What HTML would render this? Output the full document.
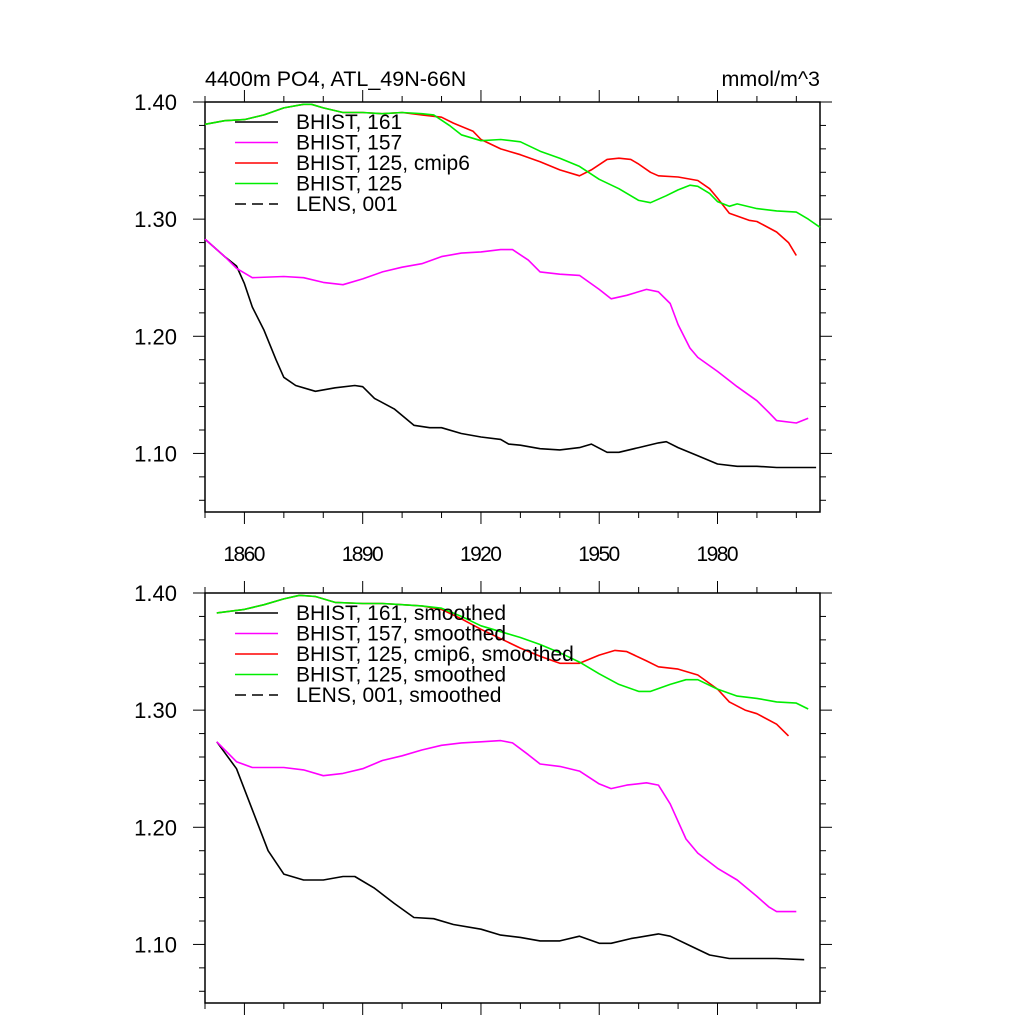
<!DOCTYPE html>
<html><head><meta charset="utf-8"><style>
body{margin:0;background:#fff}
svg{display:block;font-family:"Liberation Sans",sans-serif}
</style></head><body>
<svg id="chart" width="1024" height="1024" viewBox="0 0 1024 1024">
<text x="205" y="86" font-size="21.5">4400m PO4, ATL_49N-66N</text>
<text x="820" y="86" font-size="21.5" text-anchor="end">mmol/m^3</text>
</svg>
<script>
const xTicks=[1860,1890,1920,1950,1980];
const yTicks=[1.40,1.30,1.20,1.10];
const yTickLabels=["1.40","1.30","1.20","1.10"];
// top panel (raw)
const blkYears=[1850,1855,1858,1860,1862,1865,1868,1870,1873,1878,1883,1888,1890,1893,1898,1903,1907,1910,1915,1920,1925,1927,1930,1935,1940,1945,1948,1952,1955,1960,1965,1967,1970,1975,1980,1985,1990,1995,2000,2005];
const blkVals=[1.283,1.268,1.26,1.245,1.225,1.205,1.18,1.165,1.158,1.153,1.156,1.158,1.157,1.147,1.138,1.124,1.122,1.122,1.117,1.114,1.112,1.108,1.107,1.104,1.103,1.105,1.108,1.101,1.101,1.105,1.109,1.110,1.105,1.098,1.091,1.089,1.089,1.088,1.088,1.088];
const magYears=[1850,1855,1858,1862,1870,1875,1880,1885,1890,1895,1900,1905,1910,1915,1920,1925,1928,1932,1935,1940,1945,1950,1953,1957,1962,1965,1968,1970,1973,1975,1980,1985,1990,1993,1995,2000,2003];
const magVals=[1.283,1.268,1.258,1.25,1.251,1.25,1.246,1.244,1.249,1.255,1.259,1.262,1.268,1.271,1.272,1.274,1.274,1.265,1.255,1.253,1.252,1.24,1.232,1.235,1.240,1.238,1.228,1.21,1.19,1.182,1.17,1.157,1.145,1.135,1.128,1.126,1.13];
const redYears=[1850,1855,1860,1865,1870,1875,1877,1880,1885,1890,1895,1900,1905,1910,1913,1918,1920,1925,1930,1935,1940,1945,1948,1952,1955,1958,1960,1963,1965,1970,1975,1978,1980,1983,1988,1990,1995,1998,2000];
const redVals=[1.381,1.384,1.385,1.389,1.395,1.398,1.398,1.395,1.391,1.391,1.390,1.391,1.389,1.387,1.382,1.375,1.368,1.36,1.355,1.349,1.342,1.337,1.342,1.351,1.352,1.351,1.347,1.340,1.337,1.336,1.333,1.326,1.318,1.305,1.299,1.298,1.289,1.280,1.269];
const grnYears=[1850,1855,1860,1865,1870,1875,1877,1880,1885,1890,1895,1900,1905,1908,1912,1915,1920,1925,1930,1935,1940,1945,1950,1955,1960,1963,1967,1970,1973,1975,1978,1980,1983,1985,1990,1995,2000,2003,2006];
const grnVals=[1.381,1.384,1.385,1.389,1.395,1.398,1.398,1.395,1.391,1.391,1.390,1.391,1.390,1.389,1.38,1.372,1.367,1.368,1.366,1.358,1.352,1.345,1.334,1.326,1.316,1.314,1.320,1.325,1.329,1.328,1.322,1.315,1.311,1.313,1.309,1.307,1.306,1.300,1.293];
// bottom panel (smoothed)
const sBlkYears=[1853,1858,1862,1866,1870,1875,1880,1885,1888,1893,1898,1903,1908,1913,1920,1925,1930,1935,1940,1945,1950,1953,1958,1965,1968,1973,1978,1983,1990,1995,2002];
const sBlkVals=[1.273,1.25,1.215,1.18,1.16,1.155,1.155,1.158,1.158,1.148,1.135,1.123,1.122,1.117,1.113,1.108,1.106,1.103,1.103,1.107,1.101,1.101,1.105,1.109,1.107,1.099,1.091,1.088,1.088,1.088,1.087];
const sMagYears=[1853,1858,1862,1870,1875,1880,1885,1890,1895,1900,1905,1910,1915,1920,1925,1928,1932,1935,1940,1945,1950,1953,1957,1962,1965,1968,1972,1975,1980,1985,1990,1993,1995,2000];
const sMagVals=[1.273,1.256,1.251,1.251,1.249,1.244,1.246,1.25,1.257,1.261,1.266,1.27,1.272,1.273,1.274,1.272,1.262,1.254,1.252,1.248,1.237,1.233,1.236,1.238,1.236,1.22,1.19,1.178,1.165,1.155,1.141,1.132,1.128,1.128];
const sRedYears=[1853,1860,1865,1870,1874,1878,1883,1890,1895,1900,1905,1910,1915,1920,1925,1930,1935,1940,1945,1950,1954,1957,1962,1965,1970,1975,1980,1983,1987,1990,1995,1998];
const sRedVals=[1.383,1.386,1.39,1.395,1.398,1.397,1.392,1.391,1.391,1.390,1.389,1.386,1.378,1.369,1.361,1.353,1.346,1.340,1.34,1.347,1.351,1.350,1.342,1.337,1.335,1.330,1.318,1.307,1.300,1.297,1.288,1.278];
const sGrnYears=[1853,1860,1865,1870,1874,1878,1883,1890,1895,1900,1905,1910,1915,1920,1925,1930,1935,1940,1945,1950,1955,1960,1963,1968,1972,1975,1980,1985,1990,1995,2000,2003];
const sGrnVals=[1.383,1.386,1.39,1.395,1.398,1.397,1.392,1.391,1.391,1.390,1.389,1.387,1.380,1.372,1.367,1.362,1.356,1.349,1.341,1.331,1.322,1.316,1.316,1.322,1.326,1.326,1.318,1.312,1.310,1.307,1.306,1.301];
const topLegend=["BHIST, 161","BHIST, 157","BHIST, 125, cmip6","BHIST, 125","LENS, 001"];
const botLegend=["BHIST, 161, smoothed","BHIST, 157, smoothed","BHIST, 125, cmip6, smoothed","BHIST, 125, smoothed","LENS, 001, smoothed"];
const colors=["#000","#ff00ff","#ff0000","#00ee00","#000"];

const svg=document.getElementById('chart');
const NS='http://www.w3.org/2000/svg';
function mk(tag,attrs,parent){const e=document.createElementNS(NS,tag);for(const k in attrs)e.setAttribute(k,attrs[k]);(parent||svg).appendChild(e);return e;}
const X0=205,X1=820,YR0=1850,YR1=2006,V0=1.05,V1=1.40;
function xs(yr){return X0+(yr-YR0)*(X1-X0)/(YR1-YR0);}

function panel(top,series,legend,showXLabels,pname){
  const bot=top+410;
  const ys=v=>bot-(v-V0)*(bot-top)/(V1-V0);
  const g=mk('g',{});
  
  
  const box=mk('rect',{x:X0,y:top,width:X1-X0,height:bot-top,fill:'none',stroke:'#000','stroke-width':1.5},g);
  
  
  for(let yr=1850;yr<=2000;yr+=10){
    const x=xs(yr),maj=(yr-1860)%30===0,L=maj?12:6;
    mk('line',{x1:x,y1:bot,x2:x,y2:bot+L,stroke:'#000','stroke-width':1},g);
    mk('line',{x1:x,y1:top,x2:x,y2:top-L,stroke:'#000','stroke-width':1},g);
  }
  for(let i=0;i<=17;i++){
    const v=1.06+i*0.02, y=ys(v), maj=Math.abs(((v-1.10)/0.1)-Math.round((v-1.10)/0.1))<1e-6, L=maj?12:6;
    mk('line',{x1:X0,y1:y,x2:X0-L,y2:y,stroke:'#000','stroke-width':1},g);
    mk('line',{x1:X1,y1:y,x2:X1+L,y2:y,stroke:'#000','stroke-width':1},g);
  }
  yTicks.forEach((v,i)=>{
    const t=mk('text',{x:177,y:ys(v)+8,'font-size':22,'text-anchor':'end'},g);
    t.textContent=yTickLabels[i];
    
    
  });
  if(showXLabels){xTicks.forEach(yr=>{
    const t=mk('text',{x:xs(yr),y:561,'font-size':21,'text-anchor':'middle','textLength':42},g);
    t.textContent=String(yr);
    
    
  });}
  series.forEach((s,i)=>{
    const pts=s[0].map((yr,j)=>xs(yr).toFixed(1)+','+ys(s[1][j]).toFixed(1)).join(' ');
    const p=mk('polyline',{points:pts,fill:'none',stroke:colors[i],'stroke-width':1.6,'stroke-linejoin':'round'},g);
    
    
  });
  legend.forEach((lab,i)=>{
    const y=top+20+i*20.5;
    const l=mk('line',{x1:235,y1:y,x2:278,y2:y,stroke:colors[i],'stroke-width':1.6},g);
    if(i===4)l.setAttribute('stroke-dasharray','11,6');
    
    
    const t=mk('text',{x:296,y:y+7,'font-size':21},g);
    t.textContent=lab;
    
    
  });
}
panel(102,[[blkYears,blkVals],[magYears,magVals],[redYears,redVals],[grnYears,grnVals]],topLegend,true,'top-panel');
panel(593,[[sBlkYears,sBlkVals],[sMagYears,sMagVals],[sRedYears,sRedVals],[sGrnYears,sGrnVals]],botLegend,false,'bottom-panel');
</script>
</body></html>
